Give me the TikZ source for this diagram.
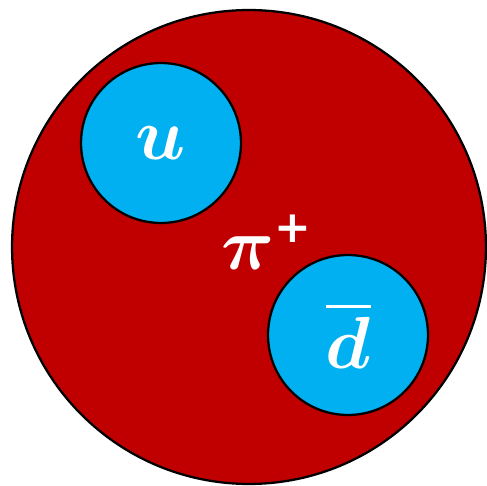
\RequirePackage{fix-cm}
\documentclass[tikz,border=0pt]{standalone}
\definecolor{PionRed}{RGB}{192,0,0}
\definecolor{QuarkBlue}{RGB}{0,176,240}
\usepackage{amsmath,amssymb,bm}
\usepackage{fontspec}
\newfontfamily\signfont{DejaVu Sans}
\usepackage{tikz}
\usetikzlibrary{positioning}

\begin{document}
\begin{tikzpicture}[
        x=0.02cm, y=-0.02cm,
        hadron/.style={circle, draw=black, line width=1.3pt, fill=PionRed,
                       minimum size=9.48cm, inner sep=0pt},
        quark/.style={circle, draw=black, line width=1.3pt, fill=QuarkBlue,
                      minimum size=3.2cm, inner sep=0pt,
                      text=white, font=\fontsize{42}{46}\selectfont},
        tag/.style={text=white, inner sep=0pt, font=\fontsize{42}{46}\selectfont}
      ]
        \useasboundingbox (0,0) rectangle (487,486);

        \node[hadron] (pion) at (249,247) {};

        \node[quark] (up)      at (161,143) {$\bm{u}$};
        \node[quark] (antidown) at (348,335) {$\overline{\bm{d}}$};

        \node[tag] (name) at (267,242)
            {$\bm{\pi}^{\text{\fontsize{25}{25}\selectfont\signfont\bfseries +}}$};
      \end{tikzpicture}
\end{document}
